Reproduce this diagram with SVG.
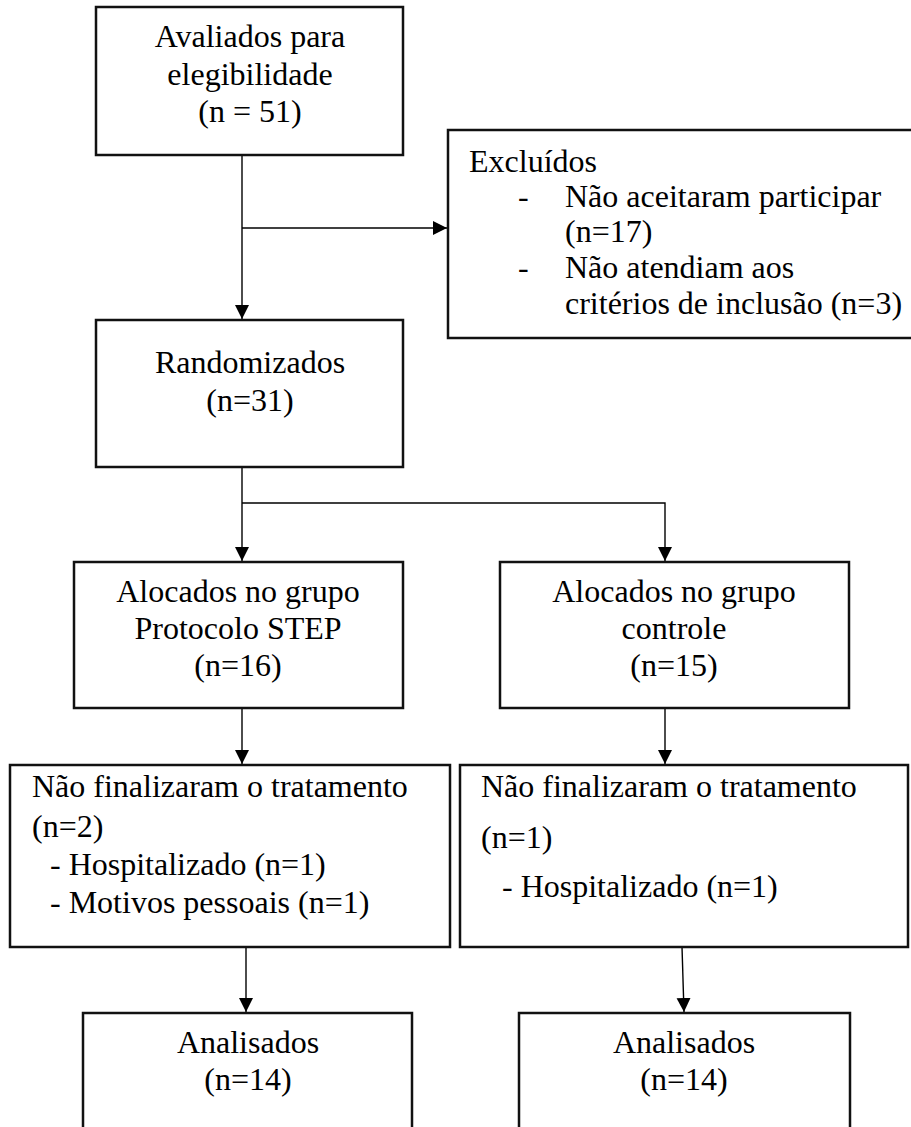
<svg xmlns="http://www.w3.org/2000/svg" width="911" height="1127" viewBox="0 0 911 1127">
<defs>
<style>
.box{fill:#fff;stroke:#111;stroke-width:2.5}
.t{font-family:'Liberation Serif','Times New Roman','DejaVu Serif',serif;font-size:32px;fill:#000}
.c{text-anchor:middle}
.conn{fill:none;stroke:#000;stroke-width:1.4}
</style>
<marker id="ah" markerUnits="userSpaceOnUse" markerWidth="15" markerHeight="15" refX="14" refY="7" orient="auto">
<path d="M0,0 L14,7 L0,14 z" fill="#000"/>
</marker>
</defs>
<rect width="911" height="1127" fill="#fff"/>
<g id="connectors">
<path class="conn" d="M242,155 V319" marker-end="url(#ah)"/>
<path class="conn" d="M242,228 H447" marker-end="url(#ah)"/>
<path class="conn" d="M242,467 V561" marker-end="url(#ah)"/>
<path class="conn" d="M242,503 H665 V561" marker-end="url(#ah)" stroke="#333"/>
<path class="conn" d="M242,708 V764" marker-end="url(#ah)"/>
<path class="conn" d="M665,708 V764" marker-end="url(#ah)"/>
<path class="conn" d="M246,947 V1012" marker-end="url(#ah)"/>
<path class="conn" d="M682,947 L684,1012" marker-end="url(#ah)"/>
</g>
<g font-family="Liberation Serif, DejaVu Serif, serif">
<g id="n1">
<rect class="box" x="96" y="7" width="307" height="148"/>
<text class="t c" x="250" y="47">Avaliados para</text>
<text class="t c" x="250" y="85">elegibilidade</text>
<text class="t c" x="250" y="122">(n = 51)</text>
</g>
<g id="excl">
<rect class="box" x="448" y="130" width="470" height="208"/>
<text class="t" x="469" y="172">Excluídos</text>
<text class="t" x="518" y="207">-</text>
<text class="t" x="565" y="207">Não aceitaram participar</text>
<text class="t" x="565" y="242">(n=17)</text>
<text class="t" x="518" y="278">-</text>
<text class="t" x="565" y="278">Não atendiam aos</text>
<text class="t" x="565" y="314">critérios de inclusão (n=3)</text>
</g>
<g id="rand">
<rect class="box" x="96" y="320" width="307" height="147"/>
<text class="t c" x="250" y="373">Randomizados</text>
<text class="t c" x="250" y="411">(n=31)</text>
</g>
<g id="aloc1">
<rect class="box" x="74" y="562" width="329" height="146"/>
<text class="t c" x="238" y="602">Alocados no grupo</text>
<text class="t c" x="238" y="639">Protocolo STEP</text>
<text class="t c" x="238" y="676">(n=16)</text>
</g>
<g id="aloc2">
<rect class="box" x="500" y="562" width="349" height="146"/>
<text class="t c" x="674" y="602">Alocados no grupo</text>
<text class="t c" x="674" y="639">controle</text>
<text class="t c" x="674" y="676">(n=15)</text>
</g>
<g id="nf1">
<rect class="box" x="10" y="765" width="440" height="182"/>
<text class="t" x="32" y="797">Não finalizaram o tratamento</text>
<text class="t" x="32" y="837">(n=2)</text>
<text class="t" x="50" y="875">- Hospitalizado (n=1)</text>
<text class="t" x="50" y="913">- Motivos pessoais (n=1)</text>
</g>
<g id="nf2">
<rect class="box" x="460" y="765" width="448" height="182"/>
<text class="t" x="481" y="797">Não finalizaram o tratamento</text>
<text class="t" x="481" y="848">(n=1)</text>
<text class="t" x="502" y="897">- Hospitalizado (n=1)</text>
</g>
<g id="an1">
<rect class="box" x="83" y="1013" width="329" height="130"/>
<text class="t c" x="248" y="1053">Analisados</text>
<text class="t c" x="248" y="1090">(n=14)</text>
</g>
<g id="an2">
<rect class="box" x="519" y="1013" width="331" height="130"/>
<text class="t c" x="684" y="1053">Analisados</text>
<text class="t c" x="684" y="1090">(n=14)</text>
</g>
</g>
</svg>
